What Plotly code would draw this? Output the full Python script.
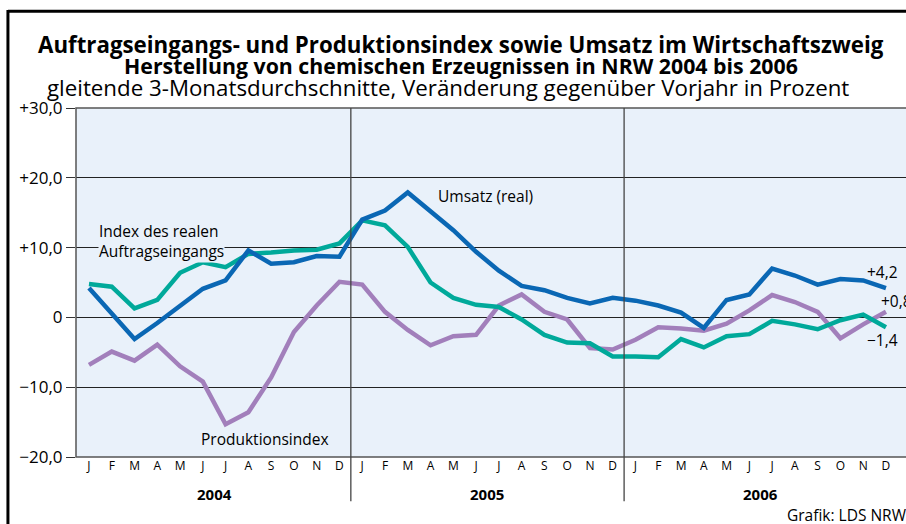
import plotly.graph_objects as go

months = ["J", "F", "M", "A", "M", "J", "J", "A", "S", "O", "N", "D"] * 3
years = ["2004", "2005", "2006"]

auftrag = [4.8, 4.4, 1.3, 2.5, 6.4, 7.9, 7.2, 9.1, 9.3, 9.6, 9.7, 10.6,
           13.9, 13.2, 10.1, 5.0, 2.8, 1.8, 1.5, -0.3, -2.5, -3.6, -3.7, -5.6,
           -5.6, -5.7, -3.1, -4.3, -2.7, -2.4, -0.5, -1.0, -1.7, -0.4, 0.4, -1.4]
umsatz = [4.2, 0.6, -3.1, -0.8, 1.6, 4.1, 5.3, 9.6, 7.7, 7.9, 8.8, 8.7,
          14.0, 15.3, 17.9, 15.3, 12.5, 9.4, 6.7, 4.5, 3.9, 2.8, 2.0, 2.8,
          2.4, 1.7, 0.7, -1.5, 2.5, 3.3, 7.0, 6.0, 4.7, 5.5, 5.3, 4.2]
produktion = [-6.8, -4.9, -6.2, -3.9, -7.0, -9.2, -15.3, -13.6, -8.6, -2.1, 1.7, 5.1,
              4.7, 0.8, -1.8, -4.0, -2.7, -2.5, 1.7, 3.3, 0.8, -0.3, -4.4, -4.6,
              -3.2, -1.4, -1.6, -1.9, -0.9, 1.0, 3.2, 2.2, 0.8, -3.0, -1.0, 0.8]

y_ticks = [-20, -10, 0, 10, 20, 30]
y_labels = ["\u221220,0", "\u221210,0", "0", "+10,0", "+20,0", "+30,0"]

x = list(range(len(months)))
FONT = "Open Sans"
BG = "#e9f1fa"

fig = go.Figure()
for vals, color in [(produktion, "#a27fbb"), (auftrag, "#00a99a"), (umsatz, "#0a67b4")]:
    fig.add_trace(go.Scatter(x=x, y=vals, mode="lines",
                             line=dict(color=color, width=4.5), showlegend=False))

# plot frame, year separators, outer frame
shapes = [
    dict(type="rect", xref="paper", yref="paper", x0=0, x1=1.2, y0=0, y1=1,
         line=dict(color="#555", width=1.5), layer="above"),
    dict(type="line", xref="paper", yref="paper", x0=-0.082, x1=1.2, y0=1.277, y1=1.277,
         line=dict(color="black", width=3)),
    dict(type="line", xref="paper", yref="paper", x0=-0.082, x1=-0.082, y0=1.281, y1=-0.3,
         line=dict(color="black", width=3)),
]
for sep in [11.5, 23.5]:
    shapes.append(dict(type="line", xref="x", yref="paper", x0=sep, x1=sep, y0=-0.127, y1=1,
                       line=dict(color="#444", width=1.3), layer="above"))

annotations = [
    dict(text="<b>Auftragseingangs- und Produktionsindex sowie Umsatz im Wirtschaftszweig</b>",
         x=461, y=44, font=dict(size=22.3)),
    dict(text="<b>Herstellung von chemischen Erzeugnissen in NRW 2004 bis 2006</b>",
         x=461, y=65, font=dict(size=21.3)),
    dict(text="gleitende 3-Monatsdurchschnitte, Ver\u00e4nderung gegen\u00fcber Vorjahr in Prozent",
         x=448, y=87, font=dict(size=22.3)),
]
for a in annotations:
    a.update(xref="paper", yref="paper", showarrow=False, xanchor="center", yanchor="middle")
    a["x"] = (a["x"] - 76) / 830
    a["y"] = (456.7 - a["y"]) / 349

for i, yr in enumerate(years):
    annotations.append(dict(text="<b>" + yr + "</b>", x=5.5 + 12 * i, y=-0.107, xref="x", yref="paper",
                            yanchor="middle", showarrow=False, font=dict(size=15)))

annotations += [
    dict(text="Index des realen<br>Auftragseingangs", x=0.38, y=11.0, xref="x", yref="y",
         xanchor="left", align="left", showarrow=False, font=dict(size=15.5), bgcolor=BG,
         borderpad=0),
    dict(text="Umsatz (real)", x=17.4, y=17.4, xref="x", yref="y", showarrow=False,
         font=dict(size=15.5)),
    dict(text="Produktionsindex", x=7.75, y=-17.4, xref="x", yref="y", showarrow=False,
         font=dict(size=15.5)),
    dict(text="+4,2", x=34.08, y=6.5, xref="x", yref="y", xanchor="left", showarrow=False,
         font=dict(size=15.5)),
    dict(text="+0,8", x=34.7, y=2.3, xref="x", yref="y", xanchor="left", showarrow=False,
         font=dict(size=15.5)),
    dict(text="\u22121,4", x=34.1, y=-3.2, xref="x", yref="y", xanchor="left", showarrow=False,
         font=dict(size=15.5)),
    dict(text="Grafik: LDS NRW", x=(909 - 76) / 830, y=-0.167, xref="paper", yref="paper",
         xanchor="right", yanchor="middle", showarrow=False, font=dict(size=15.5)),
]

fig.update_layout(
    width=906, height=524,
    margin=dict(l=76, r=0, t=108, b=67),
    paper_bgcolor="white",
    plot_bgcolor=BG,
    font=dict(family=FONT, color="black"),
    xaxis=dict(range=[-0.57, 35.88], tickvals=x, ticktext=months, showgrid=False,
               zeroline=False, ticks="", tickfont=dict(size=12), showline=False),
    yaxis=dict(range=[-20, 30], tickvals=y_ticks, ticktext=y_labels, showgrid=True,
               gridcolor="#222", gridwidth=1, zeroline=False, ticks="outside", ticklen=9,
               tickcolor="#333", tickfont=dict(size=17), showline=False),
    shapes=shapes,
    annotations=annotations,
)

fig.write_html("out.html", config={"displayModeBar": False},
               post_script="document.body.style.margin='0';")
